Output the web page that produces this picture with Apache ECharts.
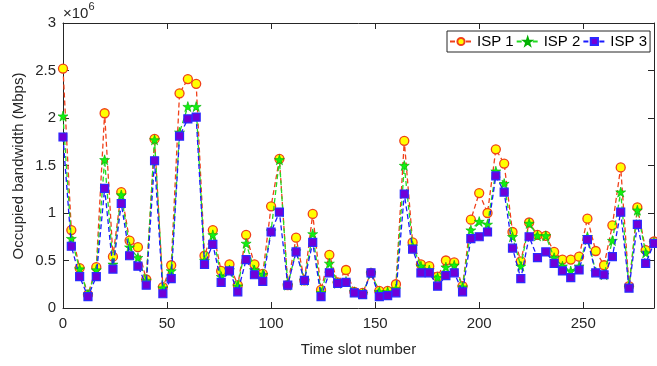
<!DOCTYPE html>
<html>
<head>
<meta charset="utf-8">
<script src="https://cdn.jsdelivr.net/npm/echarts@6/dist/echarts.min.js"></script>
<style>
html,body{margin:0;padding:0;background:#fff;}
#chart{width:657px;height:366px;}
</style>
</head>
<body>
<div id="chart"></div>
<script>
// Time slot numbers (x values)
const timeSlots = [0,4,8,12,16,20,24,28,32,36,40,44,48,52,56,60,64,68,72,76,80,84,88,92,96,100,104,108,112,116,120,124,128,132,136,140,144,148,152,156,160,164,168,172,176,180,184,188,192,196,200,204,208,212,216,220,224,228,232,236,240,244,248,252,256,260,264,268,272,276,280,284];
// Occupied bandwidth, in units of 10^6 Mbps
const isp1 = [2.52,0.82,0.42,0.14,0.43,2.05,0.54,1.22,0.71,0.64,0.30,1.78,0.22,0.45,2.26,2.41,2.36,0.55,0.82,0.39,0.46,0.24,0.77,0.46,0.36,1.07,1.57,0.24,0.74,0.29,0.99,0.19,0.56,0.27,0.40,0.17,0.16,0.37,0.18,0.18,0.25,1.76,0.69,0.46,0.44,0.33,0.50,0.48,0.23,0.93,1.21,1.00,1.67,1.52,0.80,0.49,0.90,0.77,0.76,0.59,0.51,0.51,0.54,0.94,0.60,0.45,0.87,1.48,0.23,1.06,0.61,0.70];
const isp2 = [2.02,0.73,0.41,0.14,0.40,1.56,0.46,1.19,0.64,0.53,0.29,1.77,0.21,0.39,1.85,2.12,2.12,0.50,0.77,0.33,0.40,0.23,0.68,0.40,0.35,0.81,1.56,0.24,0.60,0.29,0.78,0.16,0.47,0.26,0.28,0.17,0.15,0.37,0.17,0.17,0.20,1.50,0.65,0.44,0.40,0.32,0.43,0.45,0.22,0.82,0.91,0.88,1.44,1.31,0.75,0.44,0.89,0.76,0.76,0.53,0.44,0.39,0.44,0.75,0.38,0.35,0.71,1.22,0.22,1.03,0.58,0.69];
const isp3 = [1.80,0.65,0.33,0.12,0.33,1.26,0.41,1.10,0.55,0.44,0.24,1.55,0.15,0.31,1.81,1.99,2.01,0.46,0.67,0.27,0.39,0.17,0.51,0.35,0.28,0.80,1.01,0.24,0.59,0.29,0.69,0.12,0.37,0.26,0.27,0.16,0.14,0.37,0.12,0.13,0.16,1.20,0.62,0.37,0.37,0.23,0.34,0.37,0.17,0.73,0.75,0.80,1.39,1.22,0.63,0.31,0.75,0.53,0.59,0.47,0.39,0.32,0.40,0.72,0.37,0.35,0.54,1.01,0.21,0.88,0.47,0.68];
const seriesNames = ['ISP 1','ISP 2','ISP 3'];
const xTicks = [0,50,100,150,200,250];
const yTicks = [0,0.5,1,1.5,2,2.5,3];
const xLabel = 'Time slot number';
const yLabel = 'Occupied bandwidth (Mbps)';

const FONT = 'Liberation Sans, Arial, Helvetica, sans-serif';
const AX = '#262626';
const starPath = 'path://M50,0 L61.2,34.5 L97.6,34.5 L68.2,55.9 L79.4,90.5 L50,69.1 L20.6,90.5 L31.8,55.9 L2.4,34.5 L38.8,34.5 Z';

const pairs = arr => timeSlots.map((t, i) => [t, arr[i]]);

const chart = echarts.init(document.getElementById('chart'), null, {renderer: 'canvas'});
const axisCommon = {
  type: 'value',
  axisLine: {show: true, onZero: false, lineStyle: {color: AX, width: 1}},
  axisTick: {show: true, inside: true, length: 6, lineStyle: {color: AX, width: 1}},
  splitLine: {show: false}
};
chart.setOption({
  animation: false,
  backgroundColor: '#fff',
  grid: {left: 63, right: -1, top: 23, bottom: 58, containLabel: false},
  xAxis: [
    Object.assign({}, axisCommon, {
      position: 'bottom', min: 0, max: 284, interval: 50,
      axisLabel: {show: true, fontSize: 15, color: AX, fontFamily: FONT, margin: 8,
        formatter: v => xTicks.indexOf(v) >= 0 ? String(v) : ''},
      name: xLabel, nameLocation: 'middle', nameGap: 34,
      nameTextStyle: {fontSize: 15, color: AX, fontFamily: FONT}
    }),
    Object.assign({}, axisCommon, {
      position: 'top', min: 0, max: 284, interval: 50,
      axisLabel: {show: false}
    })
  ],
  yAxis: [
    Object.assign({}, axisCommon, {
      position: 'left', min: 0, max: 3, interval: 0.5,
      axisLabel: {show: true, fontSize: 15, color: AX, fontFamily: FONT, margin: 7,
        formatter: v => yTicks.indexOf(v) >= 0 ? String(v) : ''}
    }),
    Object.assign({}, axisCommon, {
      position: 'right', min: 0, max: 3, interval: 0.5,
      axisLabel: {show: false}
    })
  ],
  legend: {
    left: 447, top: 31, width: 300,
    orient: 'horizontal',
    itemWidth: 22, itemHeight: 9, itemGap: 2,
    padding: [3, 3, 3, 2],
    borderColor: AX, borderWidth: 1, backgroundColor: '#fff',
    textStyle: {fontSize: 15, color: '#000', fontFamily: FONT},
    data: seriesNames
  },
  graphic: [
    {
      type: 'text', left: 63, top: 1,
      style: {
        text: '{a|×10}{b|6}',
        rich: {
          a: {fontSize: 15, fontFamily: FONT, fill: AX, verticalAlign: 'bottom', lineHeight: 20},
          b: {fontSize: 11, fontFamily: FONT, fill: AX, verticalAlign: 'top', lineHeight: 20}
        }
      }
    },
    {
      type: 'text', x: 19, y: 166, rotation: Math.PI / 2,
      style: {text: yLabel, fontSize: 15, fontFamily: FONT, fill: AX, align: 'center', verticalAlign: 'middle'}
    }
  ],
  series: [
    {
      name: seriesNames[0], type: 'line', data: pairs(isp1),
      symbol: 'circle', symbolSize: 9,
      lineStyle: {color: '#f0401a', width: 1.3, type: [5, 3]},
      itemStyle: {color: '#ffff00', borderColor: '#f0401a', borderWidth: 1.3},
      z: 2
    },
    {
      name: seriesNames[1], type: 'line', data: pairs(isp2),
      symbol: starPath, symbolSize: 10,
      lineStyle: {color: '#22dd22', width: 1.3, type: [5, 3]},
      itemStyle: {color: '#11f011', borderColor: '#00b000', borderWidth: 0.6},
      z: 3
    },
    {
      name: seriesNames[2], type: 'line', data: pairs(isp3),
      symbol: 'rect', symbolSize: 8,
      lineStyle: {color: '#1a1aff', width: 1.3, type: [5, 3]},
      itemStyle: {color: '#7000d8', borderColor: '#2a2aff', borderWidth: 1.2},
      z: 4
    }
  ]
});
</script>
</body>
</html>
